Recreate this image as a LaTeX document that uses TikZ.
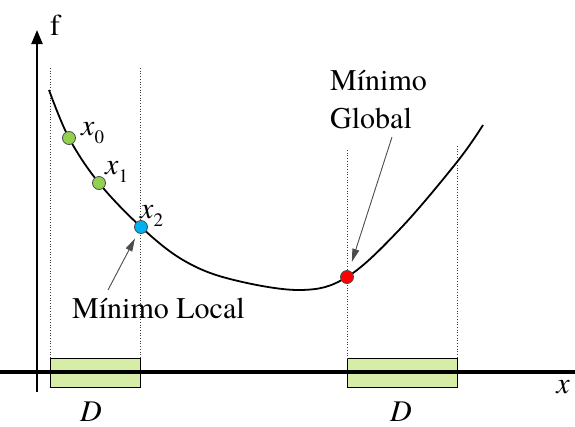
\documentclass[tikz,border=0pt]{standalone}
\usepackage{fontspec}
\setmainfont{texgyretermes}[Extension=.otf, UprightFont=*-regular,
  ItalicFont=*-italic, BoldFont=*-bold, BoldItalicFont=*-bolditalic]
\usetikzlibrary{arrows.meta}
\definecolor{ptgreen}{RGB}{146,208,80}
\definecolor{ptblue}{RGB}{0,176,240}
\definecolor{ptred}{RGB}{255,0,0}
\definecolor{boxgreen}{RGB}{214,237,168}
\tikzset{
  xaxis/.style={line width=3.4pt},
  yaxis/.style={line width=2.2pt, -{Triangle[length=14pt,width=11pt]}},
  guide/.style={dotted, line width=0.7pt, black!75},
  fcurve/.style={line width=1.8pt},
  dom/.style={draw, line width=0.9pt, fill=boxgreen},
  pt/.style={circle, draw=black!70, line width=0.8pt, inner sep=0pt, minimum size=13pt},
  lbl/.style={font=\fontsize{30}{38}\selectfont, inner sep=0pt},
  ptr/.style={-{Triangle[length=13pt,width=7pt]}, line width=0.9pt, black!70},
}
\newcommand{\xsub}[1]{\textit{x}\raisebox{-8pt}{\fontsize{19}{19}\selectfont #1}}

\begin{document}
\begin{tikzpicture}[x=1pt,y=-1pt]
  \useasboundingbox (0,0) rectangle (575,426);
  % domains
  \draw[dom] (50,358) rectangle (140,387);
  \draw[dom] (347,358) rectangle (457,387);
  \draw[guide] (50,68) -- (50,358);
  \draw[guide] (140,68) -- (140,358);
  \draw[guide] (347,150) -- (347,358);
  \draw[guide] (457,146) -- (457,358);
  % axes
  \draw[xaxis] (0,372) -- (575,372);
  \draw[yaxis] (37,392) -- (37,30);
  \node[lbl, anchor=base west] (fl) at (50,35) {f};
  \node[lbl, anchor=base] (xl) at (563,393) {\textit{x}};
  \node[lbl, anchor=base] (d1) at (91,421) {\textit{D}};
  \node[lbl, anchor=base] (d2) at (401,421) {\textit{D}};
  % function
  \draw[fcurve] plot[smooth, tension=0.6] coordinates {(49,90) (69,138) (99,183)
    (141,227) (183,260) (230,279) (300,290) (347,277) (400,229) (457,162) (483,125)};
  \node[pt, fill=ptgreen] (p0) at (69,138) {};
  \node[pt, fill=ptgreen] (p1) at (99,183) {};
  \node[pt, fill=ptblue] (p2) at (141,227) {};
  \node[pt, fill=ptred] (pg) at (347,277) {};
  \node[lbl, anchor=base west] (l0) at (81,135) {\xsub{0}};
  \node[lbl, anchor=base west] (l1) at (105,174) {\xsub{1}};
  \node[lbl, anchor=base west] (l2) at (140,218) {\xsub{2}};
  % minima
  \node[lbl, anchor=base west] (loc) at (72,318) {Mínimo Local};
  \node[lbl, anchor=base west, align=left] (glob) at (330,128) {Mínimo\\Global};
  \coordinate (locfoot) at (108,290);
  \coordinate (globfoot) at (392,137);
  \draw[ptr, shorten >=6pt] (locfoot) -- (p2);
  \draw[ptr, shorten >=9pt] (globfoot) -- (pg);
\end{tikzpicture}
\end{document}
